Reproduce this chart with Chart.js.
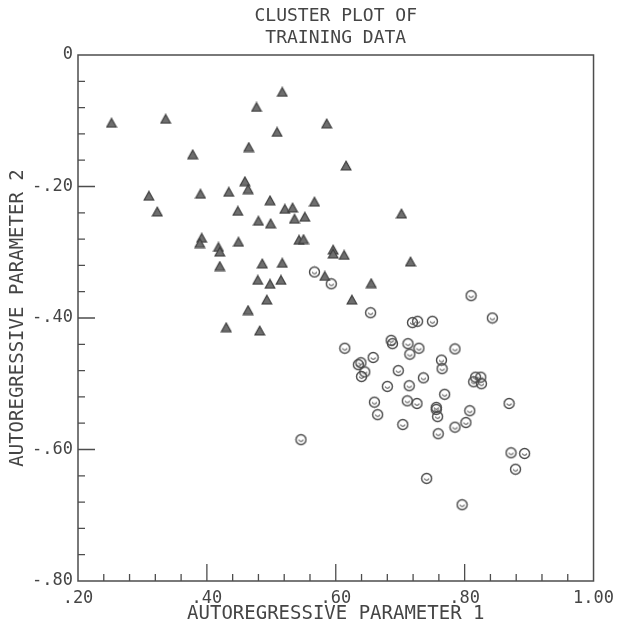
<!DOCTYPE html>
<html>
<head>
<meta charset="utf-8">
<script src="https://cdn.jsdelivr.net/npm/chart.js@4.4.1/dist/chart.umd.min.js"></script>
<style>
  html, body { margin: 0; padding: 0; background: #ffffff; }
  #c { display: block; }
</style>
</head>
<body>
<canvas id="c" width="621" height="634"></canvas>
<script>
// ---- data ----
const triX = [0.252,0.336,0.378,0.477,0.517,0.509,0.465,0.586,0.616,0.310,0.323,0.390,0.434,0.459,0.464,0.448,0.498,0.521,0.533,0.567,0.480,0.499,0.536,0.552,0.392,0.389,0.418,0.420,0.449,0.543,0.550,0.596,0.596,0.613,0.517,0.716,0.420,0.486,0.515,0.479,0.498,0.583,0.655,0.625,0.493,0.464,0.430,0.482,0.702];
const triY = [-0.103,-0.097,-0.151,-0.079,-0.056,-0.117,-0.140,-0.104,-0.168,-0.214,-0.238,-0.211,-0.208,-0.192,-0.204,-0.237,-0.221,-0.234,-0.232,-0.223,-0.252,-0.256,-0.249,-0.246,-0.278,-0.286,-0.292,-0.299,-0.284,-0.281,-0.280,-0.296,-0.302,-0.304,-0.316,-0.314,-0.321,-0.317,-0.342,-0.342,-0.348,-0.336,-0.347,-0.372,-0.372,-0.388,-0.414,-0.419,-0.241];
const circX = [0.567,0.593,0.810,0.843,0.654,0.719,0.727,0.750,0.686,0.688,0.712,0.729,0.715,0.614,0.785,0.658,0.764,0.765,0.635,0.639,0.645,0.640,0.697,0.736,0.680,0.714,0.817,0.825,0.814,0.826,0.769,0.660,0.711,0.726,0.756,0.756,0.758,0.808,0.869,0.665,0.704,0.785,0.802,0.759,0.546,0.872,0.893,0.879,0.741,0.796];
const circY = [-0.330,-0.348,-0.366,-0.400,-0.392,-0.407,-0.405,-0.405,-0.434,-0.439,-0.439,-0.446,-0.455,-0.446,-0.447,-0.460,-0.464,-0.477,-0.471,-0.468,-0.482,-0.489,-0.480,-0.491,-0.504,-0.503,-0.490,-0.490,-0.497,-0.500,-0.516,-0.528,-0.526,-0.530,-0.536,-0.539,-0.550,-0.541,-0.530,-0.547,-0.562,-0.566,-0.559,-0.576,-0.585,-0.605,-0.606,-0.630,-0.644,-0.684];

const xTickValues = [0.2, 0.4, 0.6, 0.8, 1.0];
const xTickLabels = ['.20', '.40', '.60', '.80', '1.00'];
const yTickValues = [0, -0.2, -0.4, -0.6, -0.8];
const yTickLabels = ['0', '-.20', '-.40', '-.60', '-.80'];
const xMajorInner = [0.4, 0.6, 0.8];
const yMajorInner = [-0.2, -0.4, -0.6];
const xMinorTicks = [0.24,0.28,0.32,0.36,0.44,0.48,0.52,0.56,0.64,0.68,0.72,0.76,0.84,0.88,0.92,0.96];
const yMinorTicks = [-0.04,-0.08,-0.12,-0.16,-0.24,-0.28,-0.32,-0.36,-0.44,-0.48,-0.52,-0.56,-0.64,-0.68,-0.72,-0.76];

const titleLines = ['CLUSTER PLOT OF', 'TRAINING DATA'];
const xTitle = 'AUTOREGRESSIVE PARAMETER 1';
const yTitle = 'AUTOREGRESSIVE PARAMETER 2';

// ---- marker images ----
function makeTriangle() {
  const c = document.createElement('canvas');
  c.width = 12; c.height = 11;
  const g = c.getContext('2d');
  g.beginPath();
  g.moveTo(6, 1.2); g.lineTo(10.8, 9.8); g.lineTo(1.2, 9.8); g.closePath();
  g.fillStyle = '#6e6e6e'; g.fill();
  g.strokeStyle = '#3c3c3c'; g.lineWidth = 1.2; g.stroke();
  return c;
}
function makeCircle() {
  const c = document.createElement('canvas');
  c.width = 13; c.height = 13;
  const g = c.getContext('2d');
  g.strokeStyle = '#4a4a4a';
  g.lineWidth = 1.4;
  g.beginPath(); g.arc(6.5, 6.5, 5, 0, Math.PI * 2); g.stroke();
  g.lineWidth = 1.1;
  g.beginPath(); g.arc(6.5, 6.2, 2.1, 0.05 * Math.PI, 0.95 * Math.PI); g.stroke();
  return c;
}

const LINE = '#4d4d4d';
const TEXT = '#454545';
const FONT = "'DejaVu Sans Mono', 'Liberation Mono', monospace";

const frameTicks = {
  id: 'frameTicks',
  afterDatasetsDraw(chart) {
    const ctx = chart.ctx;
    const xs = chart.scales.x, ys = chart.scales.y;
    const L = xs.getPixelForValue(0.2), R = xs.getPixelForValue(1.0);
    const T = ys.getPixelForValue(0), B = ys.getPixelForValue(-0.8);
    ctx.save();
    ctx.strokeStyle = LINE;
    ctx.lineWidth = 1.5;
    ctx.strokeRect(L, T, R - L, B - T);
    ctx.lineWidth = 1.3;
    ctx.beginPath();
    xMajorInner.forEach(v => { const p = xs.getPixelForValue(v); ctx.moveTo(p, B); ctx.lineTo(p, B - 17); });
    xMinorTicks.forEach(v => { const p = xs.getPixelForValue(v); ctx.moveTo(p, B); ctx.lineTo(p, B - 7); });
    yMajorInner.forEach(v => { const p = ys.getPixelForValue(v); ctx.moveTo(L, p); ctx.lineTo(L + 17, p); });
    yMinorTicks.forEach(v => { const p = ys.getPixelForValue(v); ctx.moveTo(L, p); ctx.lineTo(L + 7, p); });
    ctx.stroke();
    ctx.restore();
  }
};

new Chart(document.getElementById('c'), {
  type: 'scatter',
  data: {
    datasets: [
      {
        label: 'class 1',
        data: triX.map((x, i) => ({ x: x, y: triY[i] })),
        pointStyle: makeTriangle(),
        pointRadius: 5
      },
      {
        label: 'class 2',
        data: circX.map((x, i) => ({ x: x, y: circY[i] })),
        pointStyle: makeCircle(),
        pointRadius: 6
      }
    ]
  },
  options: {
    responsive: false,
    animation: false,
    devicePixelRatio: 1,
    layout: { padding: { left: 0, right: 20, top: 0, bottom: 0 } },
    plugins: {
      legend: { display: false },
      tooltip: { enabled: false },
      title: {
        display: true,
        fullSize: false,
        text: titleLines,
        color: TEXT,
        font: { family: FONT, size: 18, weight: 'normal', lineHeight: 1.25 },
        padding: { top: 5, bottom: 5 }
      }
    },
    scales: {
      x: {
        type: 'linear',
        min: 0.2, max: 1.0,
        afterBuildTicks(s) { s.ticks = xTickValues.map(v => ({ value: v })); },
        afterFit(s) { s.height = 53; },
        grid: { display: false, drawTicks: false },
        border: { display: false },
        ticks: {
          color: TEXT,
          padding: 7,
          maxRotation: 0,
          autoSkip: false,
          font: { family: FONT, size: 17 },
          callback(v, i) { return xTickLabels[i]; }
        },
        title: {
          display: true,
          text: xTitle,
          color: TEXT,
          font: { family: FONT, size: 19 },
          padding: { top: 0, bottom: 9 }
        }
      },
      y: {
        type: 'linear',
        min: -0.8, max: 0,
        afterBuildTicks(s) { s.ticks = yTickValues.map(v => ({ value: v })); },
        afterFit(s) { s.width = 78; },
        grid: { display: false, drawTicks: false },
        border: { display: false },
        ticks: {
          color: TEXT,
          padding: 5,
          autoSkip: false,
          font: { family: FONT, size: 17 },
          callback(v, i) { return yTickLabels[i]; }
        },
        title: {
          display: true,
          text: yTitle,
          color: TEXT,
          font: { family: FONT, size: 19 },
          padding: { top: 7, bottom: 0 }
        }
      }
    }
  },
  plugins: [frameTicks]
});
</script>
</body>
</html>
